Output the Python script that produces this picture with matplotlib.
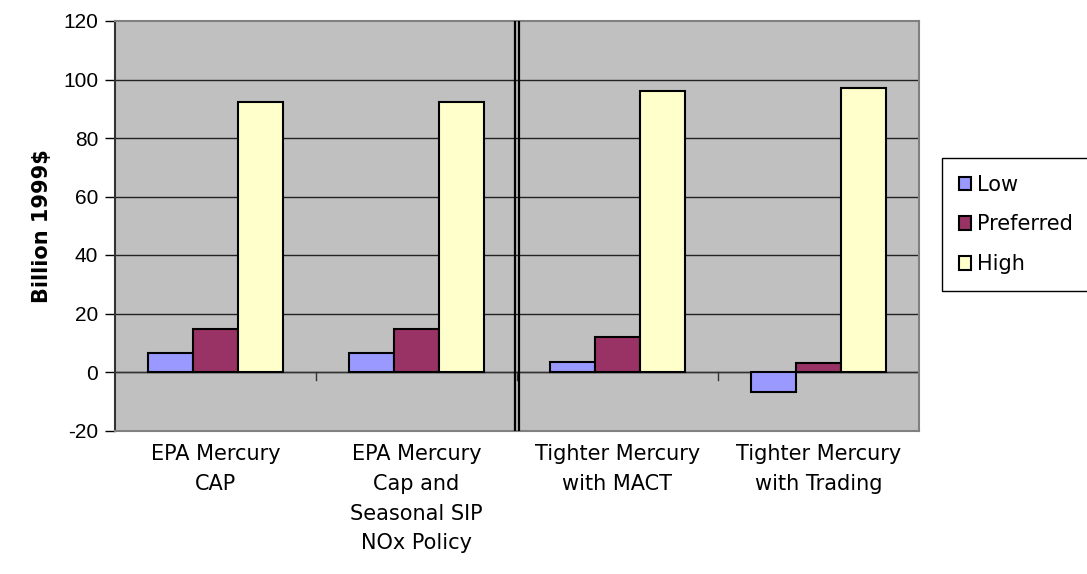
import numpy as np
import matplotlib
matplotlib.use("Agg")
import matplotlib.pyplot as plt

plt.rcParams["font.family"] = ["DejaVu Sans"]

# chart data
categories = [
    "EPA Mercury\nCAP",
    "EPA Mercury\nCap and\nSeasonal SIP\nNOx Policy",
    "Tighter Mercury\nwith MACT",
    "Tighter Mercury\nwith Trading",
]
series_names = ["Low", "Preferred", "High"]
low = [6.4, 6.4, 3.5, -6.9]
preferred = [14.8, 14.8, 11.9, 3.0]
high = [92.4, 92.4, 95.9, 97.2]
y_ticks = [-20, 0, 20, 40, 60, 80, 100, 120]

colors = ["#9999FF", "#993366", "#FFFFCC"]

fig = plt.figure(figsize=(10.87, 5.74), dpi=100)
ax = fig.add_axes([115 / 1087, 1 - 430.5 / 574, 804 / 1087, 409.5 / 574])
ax.set_facecolor("#C0C0C0")

x = np.arange(len(categories))
width = 0.225
for i, (vals, name) in enumerate(zip([low, preferred, high], series_names)):
    ax.bar(x + (i - 1) * width, vals, width, color=colors[i],
           edgecolor="black", linewidth=1.5, label=name, zorder=3)

ax.set_xlim(-0.5, len(categories) - 0.5)
ax.set_ylim(-20, 120)
ax.set_yticks(y_ticks)
ax.set_yticklabels([str(v) for v in y_ticks], fontsize=15,
                   family=["Liberation Sans", "DejaVu Sans"])
for v in y_ticks[1:-1]:
    ax.axhline(v, color="#222222", linewidth=1, zorder=1)

# zero line with category tick marks
ax.axhline(0, color="#333333", linewidth=1, zorder=2)
for b in np.arange(0.5, len(categories) - 0.5, 1):
    ax.plot([b, b], [0, -2.7], color="#333333", linewidth=1, zorder=2)

# double separator line
ax.axvline(1.491, color="black", linewidth=1.6, zorder=4)
ax.axvline(1.509, color="black", linewidth=1.6, zorder=4)

ax.set_xticks(x)
ax.set_xticklabels(categories, fontsize=15, va="top", linespacing=1.6)
ax.tick_params(axis="x", length=0, pad=10)
ax.tick_params(axis="y", length=7, width=1, direction="out", pad=5)

for s in ["top", "right", "bottom"]:
    ax.spines[s].set_color("#808080")
    ax.spines[s].set_linewidth(1.5)
ax.spines["left"].set_color("#333333")
ax.spines["left"].set_linewidth(1.5)

ax.set_ylabel("Billion 1999$", fontsize=15, fontweight="bold", labelpad=8)

leg = fig.legend(loc="upper left", bbox_to_anchor=(942 / 1087, 1 - 158 / 574),
                 borderaxespad=0, fontsize=15,
                 handlelength=0.6, handleheight=0.6, handletextpad=0.3,
                 labelspacing=0.95, borderpad=0.8, fancybox=False,
                 edgecolor="black", framealpha=1)
leg.get_frame().set_linewidth(1)

fig.savefig("out.png", dpi=100)
